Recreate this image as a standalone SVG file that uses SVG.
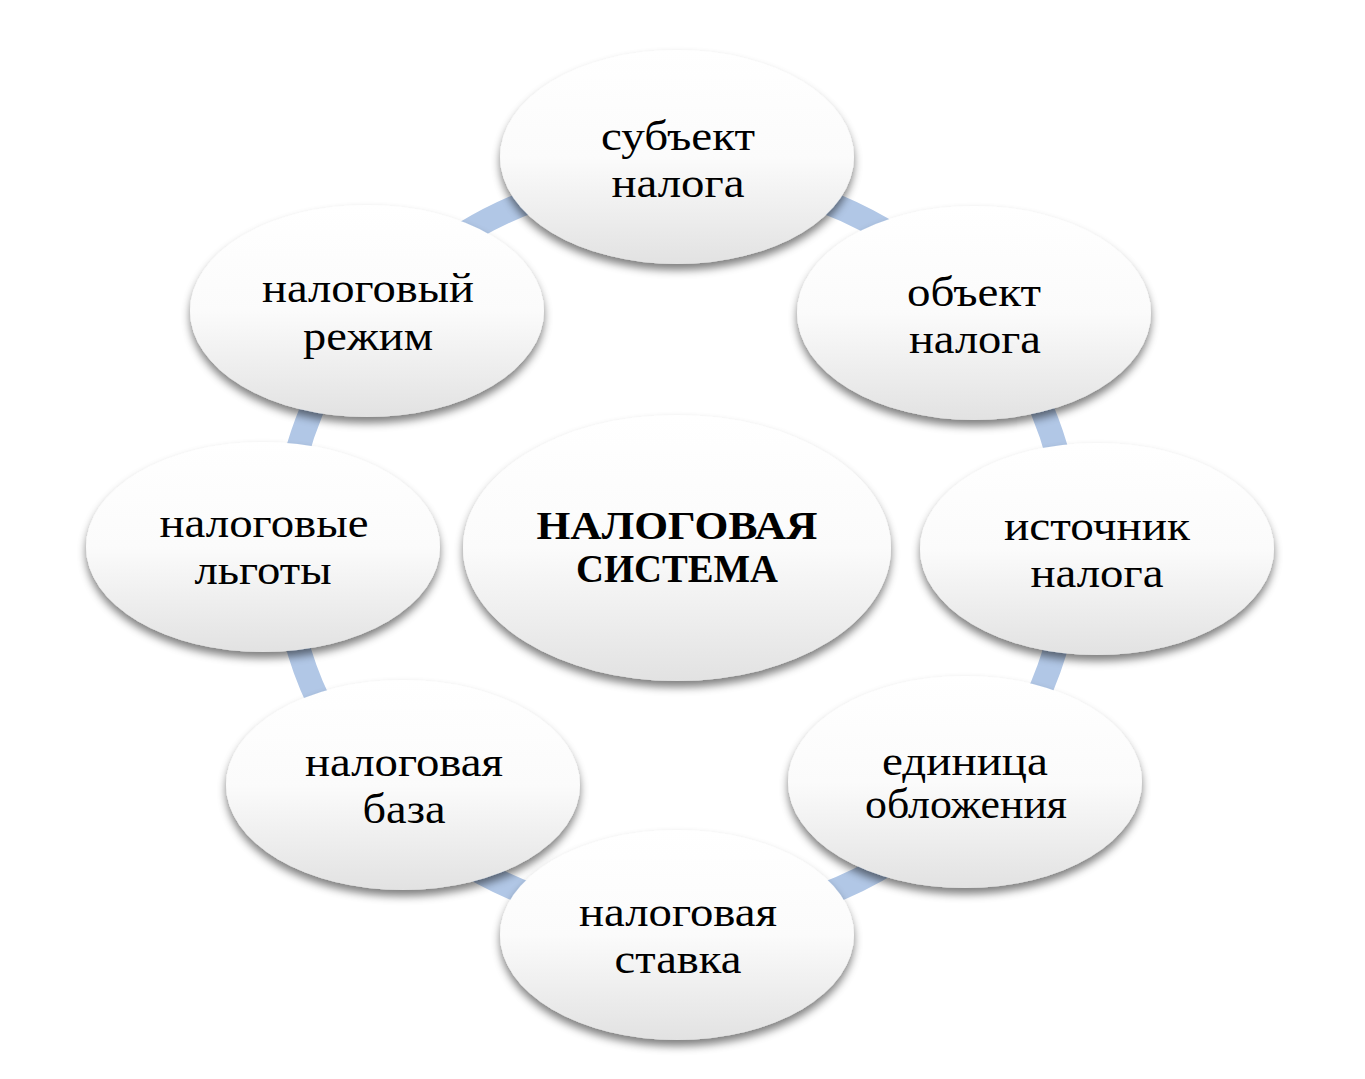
<svg xmlns="http://www.w3.org/2000/svg" width="1365" height="1079" viewBox="0 0 1365 1079">
<defs>
<linearGradient id="g" x1="0" y1="0" x2="0" y2="1">
<stop offset="0" stop-color="#ffffff"/>
<stop offset="0.5" stop-color="#fbfbfb"/>
<stop offset="1" stop-color="#e2e2e2"/>
</linearGradient>
<filter id="sh" x="-20%" y="-20%" width="140%" height="150%">
<feGaussianBlur in="SourceAlpha" stdDeviation="4"/>
<feOffset dx="0" dy="6" result="b"/>
<feFlood flood-color="#000" flood-opacity="0.5"/>
<feComposite in2="b" operator="in" result="s"/>
<feMerge><feMergeNode in="s"/><feMergeNode in="SourceGraphic"/></feMerge>
</filter>
<style>
.n{fill:url(#g);filter:url(#sh)}
.t{font-family:"Liberation Serif","Times New Roman",serif;font-size:42px;fill:#000;text-anchor:middle}
.b{font-family:"Liberation Serif","Times New Roman",serif;font-size:39px;font-weight:bold;fill:#000;text-anchor:middle}
.c{fill:none;stroke:#b1c7e6;stroke-width:24}
</style>
</defs>
<rect width="1365" height="1079" fill="#fff"/>
<g id="connectors">
<ellipse class="c" cx="677" cy="548" rx="393" ry="374"/>
</g>
<g id="center">
<ellipse class="n" cx="677" cy="548" rx="214" ry="133"/>
<text class="b" x="677" y="539" textLength="281" lengthAdjust="spacingAndGlyphs">НАЛОГОВАЯ</text>
<text class="b" x="677" y="582" textLength="202" lengthAdjust="spacingAndGlyphs">СИСТЕМА</text>
</g>
<g id="subject">
<ellipse class="n" cx="677" cy="157" rx="177" ry="107"/>
<text class="t" x="678" y="150" textLength="154" lengthAdjust="spacingAndGlyphs">субъект</text>
<text class="t" x="678" y="197" textLength="133" lengthAdjust="spacingAndGlyphs">налога</text>
</g>
<g id="object">
<ellipse class="n" cx="974" cy="313" rx="177" ry="107"/>
<text class="t" x="974" y="306" textLength="134" lengthAdjust="spacingAndGlyphs">объект</text>
<text class="t" x="975" y="353" textLength="132" lengthAdjust="spacingAndGlyphs">налога</text>
</g>
<g id="source">
<ellipse class="n" cx="1097" cy="549" rx="177" ry="106"/>
<text class="t" x="1097" y="540" textLength="186" lengthAdjust="spacingAndGlyphs">источник</text>
<text class="t" x="1097" y="587" textLength="133" lengthAdjust="spacingAndGlyphs">налога</text>
</g>
<g id="unit">
<ellipse class="n" cx="965" cy="782" rx="177" ry="106"/>
<text class="t" x="965" y="775" textLength="166" lengthAdjust="spacingAndGlyphs">единица</text>
<text class="t" x="966" y="818" textLength="202" lengthAdjust="spacingAndGlyphs">обложения</text>
</g>
<g id="rate">
<ellipse class="n" cx="677" cy="935" rx="177" ry="105"/>
<text class="t" x="678" y="926" textLength="198" lengthAdjust="spacingAndGlyphs">налоговая</text>
<text class="t" x="678" y="973" textLength="127" lengthAdjust="spacingAndGlyphs">ставка</text>
</g>
<g id="base">
<ellipse class="n" cx="403" cy="785" rx="177" ry="105"/>
<text class="t" x="404" y="776" textLength="198" lengthAdjust="spacingAndGlyphs">налоговая</text>
<text class="t" x="404" y="823" textLength="83" lengthAdjust="spacingAndGlyphs">база</text>
</g>
<g id="benefits">
<ellipse class="n" cx="263" cy="547" rx="177" ry="105"/>
<text class="t" x="264" y="537" textLength="209" lengthAdjust="spacingAndGlyphs">налоговые</text>
<text class="t" x="263" y="584" textLength="137" lengthAdjust="spacingAndGlyphs">льготы</text>
</g>
<g id="regime">
<ellipse class="n" cx="367" cy="311" rx="177" ry="106"/>
<text class="t" x="368" y="302" textLength="212" lengthAdjust="spacingAndGlyphs">налоговый</text>
<text class="t" x="368" y="350" textLength="130" lengthAdjust="spacingAndGlyphs">режим</text>
</g>
</svg>
